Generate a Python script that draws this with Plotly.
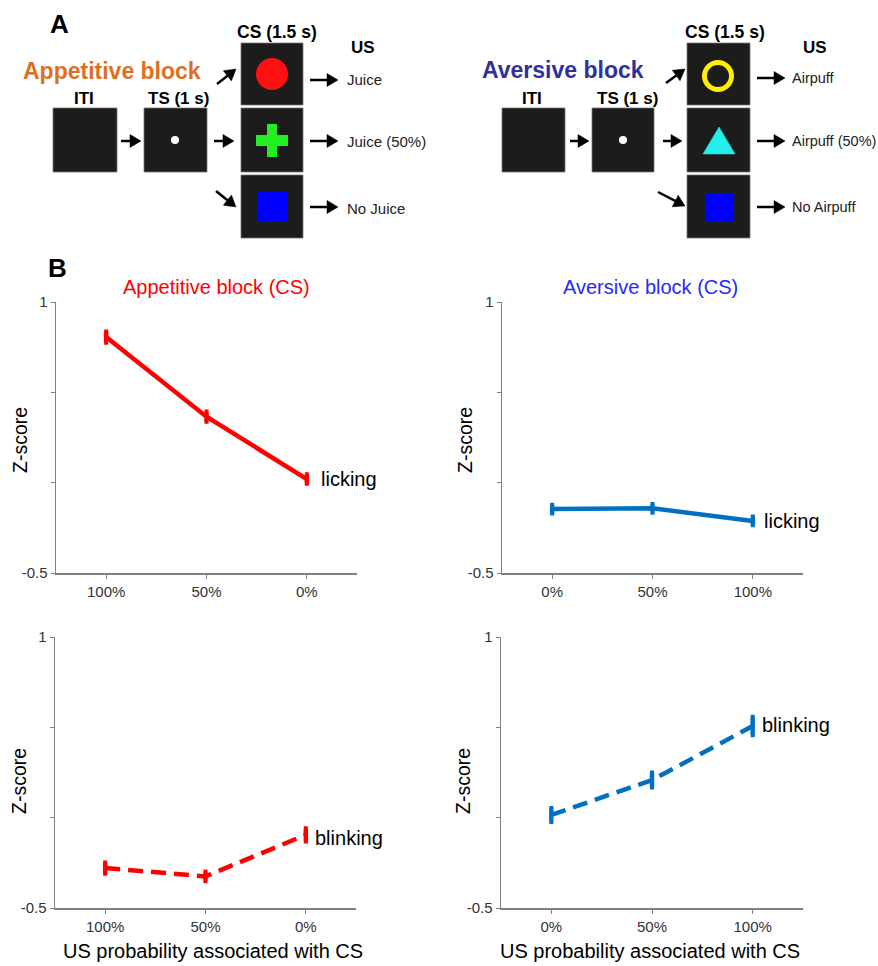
import math
import plotly.graph_objects as go

W, H = 878, 966          # browser window / figure size
OX, OY = 0, 0            # page body margin (removed by post_script below)
FW, FH = W - 2 * OX, H - 2 * OY

# ---------------- data ----------------
app_labels = ["100%", "50%", "0%"]
av_labels = ["0%", "50%", "100%"]

app_lick = [0.806, 0.365, 0.020]
app_lick_err = [0.030, 0.027, 0.025]
av_lick = [-0.146, -0.142, -0.212]
av_lick_err = [0.023, 0.023, 0.023]
app_blink = [-0.279, -0.325, -0.095]
app_blink_err = [0.030, 0.025, 0.035]
av_blink = [0.015, 0.208, 0.507]
av_blink_err = [0.037, 0.040, 0.050]

y_tickvals = [-0.5, 0, 0.5, 1]
y_ticktext = ["-0.5", "", "", "1"]

FONT = "Arial, Liberation Sans, sans-serif"
RED = "#FF0000"
BLUE = "#0070C0"


def PX(x):
    return (x - OX) / FW


def PY(y):
    return 1 - (y - OY) / FH


fig = go.Figure()

# ---------------- panel B traces ----------------
series = [
    (app_labels, app_lick, app_lick_err, RED, "solid", "x", "y"),
    (av_labels, av_lick, av_lick_err, BLUE, "solid", "x2", "y2"),
    (app_labels, app_blink, app_blink_err, RED, "15px,8px", "x3", "y3"),
    (av_labels, av_blink, av_blink_err, BLUE, "15px,8px", "x4", "y4"),
]
for xs, ys, es, col, dash, xa, ya in series:
    fig.add_trace(go.Scatter(
        x=xs, y=ys, mode="lines", xaxis=xa, yaxis=ya,
        line=dict(color=col, width=4.5, dash=dash),
        error_y=dict(type="data", array=es, visible=True, color=col,
                     thickness=4.5, width=2),
        showlegend=False, hoverinfo="skip"))

axis_common = dict(showline=True, linecolor="#808080", linewidth=1.5,
                   ticks="outside", ticklen=4, tickcolor="#808080",
                   showgrid=False, zeroline=False, automargin=False,
                   fixedrange=True,
                   tickfont=dict(family=FONT, size=15, color="#333333"))

doms = {
    "": ([56, 357], [302, 573], app_labels),
    "2": ([502, 803], [302, 573], av_labels),
    "3": ([55, 356], [637, 908], app_labels),
    "4": ([501, 803], [637, 908], av_labels),
}
lay = {}
for k, (xd, yd, labs) in doms.items():
    lay["xaxis" + k] = dict(domain=[PX(xd[0]), PX(xd[1])], anchor="y" + k,
                            type="category", categoryorder="array",
                            categoryarray=labs, range=[-0.5, 2.5],
                            **axis_common)
    lay["yaxis" + k] = dict(domain=[PY(yd[1]), PY(yd[0])], anchor="x" + k,
                            range=[-0.5, 1], tickvals=y_tickvals,
                            ticktext=y_ticktext, **axis_common)
fig.update_layout(**lay)

annotations = []
shapes = []


def text(x, y, s, size, color="black", bold=False, xanchor="center",
         angle=0):
    if bold:
        s = "<b>" + s + "</b>"
    annotations.append(dict(x=PX(x), y=PY(y), xref="paper", yref="paper",
                            text=s, showarrow=False, xanchor=xanchor,
                            yanchor="middle", textangle=angle,
                            font=dict(family=FONT, size=size, color=color)))


def data_label(xa, ya, x, y, s):
    annotations.append(dict(x=x, y=y, xref=xa, yref=ya, text=s,
                            showarrow=False, xanchor="left",
                            yanchor="middle",
                            font=dict(family=FONT, size=20, color="black")))


# panel B texts
text(57, 268, "B", 26, bold=True)
text(216, 287, "Appetitive block (CS)", 20, RED)
text(650, 287, "Aversive block (CS)", 20, "#2828FF")
for (x, y) in [(20, 440), (465, 440), (19, 781), (463, 781)]:
    text(x, y, "Z-score", 19.5, angle=-90)
text(213, 951, "US probability associated with CS", 20)
text(650, 951, "US probability associated with CS", 20)

data_label("x", "y", 2.12, app_lick[2], "licking")
data_label("x2", "y2", 2.09, av_lick[2], "licking")
data_label("x3", "y3", 2.07, app_blink[2] - 0.015, "blinking")
data_label("x4", "y4", 2.07, av_blink[2] + 0.005, "blinking")

# ---------------- panel A diagram ----------------
BOX = "#1c1c1c"


def rect(x0, y0, x1, y1, fill, line="rgba(0,0,0,0)", lw=0):
    shapes.append(dict(type="rect", xref="paper", yref="paper",
                       x0=PX(x0), x1=PX(x1), y0=PY(y1), y1=PY(y0),
                       fillcolor=fill, line=dict(color=line, width=lw)))


def circle(cx, cy, r, fill=None, line=None, lw=0):
    shapes.append(dict(type="circle", xref="paper", yref="paper",
                       x0=PX(cx - r), x1=PX(cx + r), y0=PY(cy + r),
                       y1=PY(cy - r),
                       fillcolor=fill if fill else "rgba(0,0,0,0)",
                       line=dict(color=line if line else "rgba(0,0,0,0)",
                                 width=lw)))


def poly(pts, fill):
    d = "M " + " L ".join(f"{PX(x):.5f},{PY(y):.5f}" for x, y in pts) + " Z"
    shapes.append(dict(type="path", xref="paper", yref="paper", path=d,
                       fillcolor=fill, line=dict(color=fill, width=0.5)))


def arrow(x0, y0, x1, y1, hl=11, hw=6.5, sw=2.5):
    L = math.hypot(x1 - x0, y1 - y0)
    ux, uy = (x1 - x0) / L, (y1 - y0) / L
    bx, by = x1 - hl * ux, y1 - hl * uy
    shapes.append(dict(type="line", xref="paper", yref="paper",
                       x0=PX(x0), y0=PY(y0), x1=PX(bx + ux), y1=PY(by + uy),
                       line=dict(color="black", width=sw)))
    nx, ny = -uy, ux
    poly([(x1, y1), (bx + hw * nx, by + hw * ny),
          (bx - hw * nx, by - hw * ny)], "black")


# left (appetitive)
text(59, 24, "A", 26, bold=True)
text(112, 71, "Appetitive block", 23, "#DD6F1F", bold=True)
text(84, 98, "ITI", 17, bold=True)
text(178, 98, "TS (1 s)", 17, bold=True)
text(277, 32, "CS (1.5 s)", 17.5, bold=True)
text(363, 48, "US", 17, bold=True)
text(345, 80, "Juice", 15, "#222222", xanchor="left")
text(345, 141, "Juice (50%)", 15, "#222222", xanchor="left")
text(345, 208, "No Juice", 15, "#222222", xanchor="left")
for b in [(53, 108, 117, 172), (144, 108, 207, 172), (241, 43, 303, 105),
          (241, 108, 303, 172), (241, 175, 303, 238)]:
    rect(*b, BOX, "#777777", 0.8)
circle(175, 140, 4, fill="white")
circle(272, 74, 16, fill="#FF1010")
rect(256, 135, 288, 146, "#22EE22")
rect(267, 124, 277, 157, "#22EE22")
rect(257, 192, 287, 221, "#0000FF")
arrow(121, 141, 141, 141)
arrow(214, 141, 234, 141)
arrow(217, 84, 236, 69)
arrow(216, 191, 236, 207)
for yy in [80, 141, 207]:
    arrow(310, yy, 338, yy)

# right (aversive)
text(563, 70, "Aversive block", 23, "#30309A", bold=True)
text(532, 98, "ITI", 17, bold=True)
text(627, 98, "TS (1 s)", 17, bold=True)
text(725, 32, "CS (1.5 s)", 17.5, bold=True)
text(815, 48, "US", 17, bold=True)
text(790, 78, "Airpuff", 14.5, "#222222", xanchor="left")
text(790, 141, "Airpuff (50%)", 14.5, "#222222", xanchor="left")
text(790, 207, "No Airpuff", 14.5, "#222222", xanchor="left")
for b in [(502, 108, 565, 172), (592, 108, 654, 172), (687, 43, 750, 105),
          (687, 108, 750, 172), (687, 175, 750, 238)]:
    rect(*b, BOX, "#777777", 0.8)
circle(623, 140, 4, fill="white")
circle(718, 76, 13.5, line="#FFEE00", lw=5)
poly([(703, 154), (735, 154), (719, 127)], "#22EEEE")
rect(705, 193, 733, 221, "#0000FF")
arrow(570, 141, 589, 141)
arrow(663, 141, 682, 141)
arrow(666, 83, 685, 69)
arrow(658, 192, 685, 206)
for yy in [78, 141, 207]:
    arrow(757, yy, 785, yy)

fig.update_layout(width=FW, height=FH,
                  margin=dict(l=0, r=0, t=0, b=0, pad=0, autoexpand=False),
                  paper_bgcolor="white", plot_bgcolor="white",
                  annotations=annotations, shapes=shapes,
                  font=dict(family=FONT), hovermode=False)

fig.write_html("out.html",
               config={"displayModeBar": False, "staticPlot": True},
               post_script="document.body.style.margin='0px';"
                           "document.body.style.overflow='hidden';")
